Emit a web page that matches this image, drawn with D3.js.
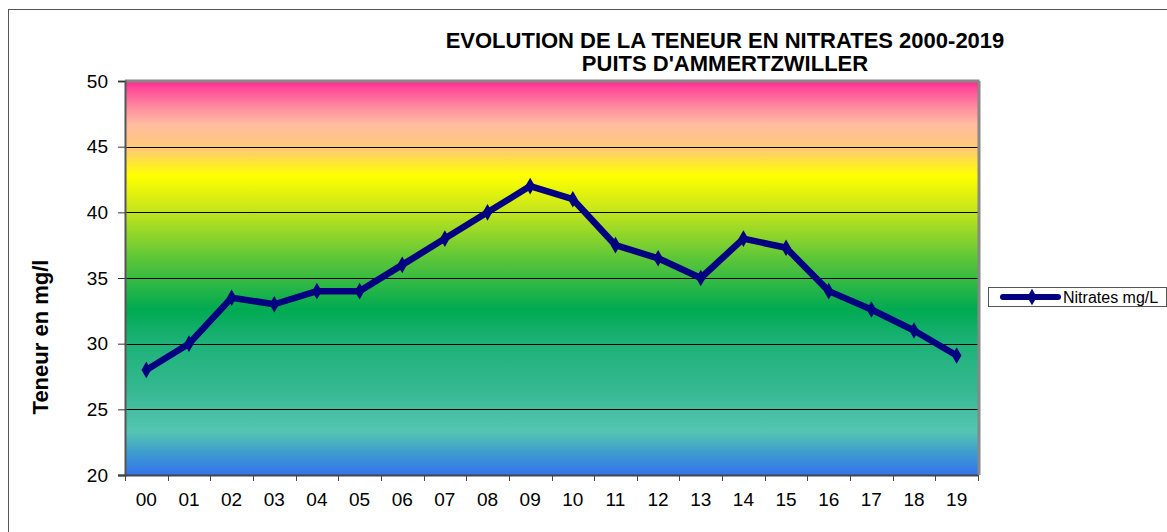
<!DOCTYPE html>
<html>
<head>
<meta charset="utf-8">
<script src="https://cdn.jsdelivr.net/npm/d3@7"></script>
<style>
  html, body { margin: 0; padding: 0; background: #fff; }
  svg { display: block; font-family: Arial, "Liberation Sans", sans-serif; }
</style>
</head>
<body>
<svg id="chart" width="1167" height="532"></svg>
<script>
const years = ['00','01','02','03','04','05','06','07','08','09','10','11','12','13','14','15','16','17','18','19'];
const nitrates = [28, 30, 33.5, 33, 34, 34, 36, 38, 40, 42, 41, 37.5, 36.5, 35, 38, 37.3, 34, 32.6, 31, 29.1];
const yTicks = [20, 25, 30, 35, 40, 45, 50];
const titleLines = ['EVOLUTION DE LA TENEUR EN NITRATES 2000-2019', "PUITS D'AMMERTZWILLER"];
const seriesName = 'Nitrates mg/L';

const svg = d3.select('#chart');
const plot = { left: 125, top: 81, right: 978, bottom: 475 };

// outer chart frame
svg.append('rect')
  .attr('x', 8.5).attr('y', 9.5)
  .attr('width', 1200).attr('height', 600)
  .attr('fill', 'none').attr('stroke', '#555').attr('stroke-width', 1);

const x = d3.scaleBand().domain(years).range([plot.left, plot.right]);
const y = d3.scaleLinear().domain([20, 50]).range([plot.bottom, plot.top]);

// background gradient of the plot area
const grad = svg.append('defs').append('linearGradient')
  .attr('id', 'bg').attr('x1', 0).attr('y1', 0).attr('x2', 0).attr('y2', 1);
[
  [0, '#ff2a94'], [0.03, '#ff5a98'], [0.07, '#ff90a0'], [0.11, '#ffbca0'],
  [0.17, '#ffc878'], [0.24, '#ffff00'], [0.33, '#c4e51c'], [0.45, '#5cc638'],
  [0.58, '#00aa52'], [0.67, '#1fb27a'], [0.78, '#34b890'], [0.89, '#55c5b2'],
  [0.94, '#3f9fcc'], [1, '#3373ee']
].forEach(([o, c]) => grad.append('stop').attr('offset', o).attr('stop-color', c));

svg.append('rect')
  .attr('x', plot.left).attr('y', plot.top)
  .attr('width', plot.right - plot.left).attr('height', plot.bottom - plot.top)
  .attr('fill', 'url(#bg)');

// grid lines
svg.append('g')
  .selectAll('line')
  .data(yTicks.filter(t => t > 20 && t < 50))
  .join('line')
  .attr('x1', plot.left).attr('x2', plot.right)
  .attr('y1', d => Math.round(y(d)) + 0.5).attr('y2', d => Math.round(y(d)) + 0.5)
  .attr('stroke', '#000').attr('stroke-width', 1);

// plot frame: gray top/right, dark left/bottom
svg.append('line').attr('x1', plot.left).attr('x2', plot.right + 1.5)
  .attr('y1', plot.top).attr('y2', plot.top).attr('stroke', '#888').attr('stroke-width', 3);
svg.append('line').attr('x1', plot.right + 1).attr('x2', plot.right + 1)
  .attr('y1', plot.top).attr('y2', plot.bottom).attr('stroke', '#888').attr('stroke-width', 3);

// y axis
const yAxis = svg.append('g')
  .attr('transform', `translate(${plot.left},0)`)
  .call(d3.axisLeft(y).tickValues(yTicks).tickSize(7).tickPadding(10));
yAxis.select('.domain').attr('stroke', '#555').attr('stroke-width', 2);
yAxis.selectAll('.tick line').attr('stroke', '#333');
yAxis.selectAll('text').attr('font-size', 19).attr('fill', '#000')
  .attr('font-family', 'Arial, "Liberation Sans", sans-serif');

// x axis: ticks at category boundaries, labels at centres
const xAxis = svg.append('g').attr('transform', `translate(0,${plot.bottom})`);
xAxis.append('line').attr('x1', plot.left - 7).attr('x2', plot.right)
  .attr('y1', 0.5).attr('y2', 0.5).attr('stroke', '#444').attr('stroke-width', 2);
xAxis.selectAll('.tk')
  .data(years.concat(['end']))
  .join('line')
  .attr('x1', (d, i) => Math.round(plot.left + i * x.step()) + 0.5)
  .attr('x2', (d, i) => Math.round(plot.left + i * x.step()) + 0.5)
  .attr('y1', 0).attr('y2', 6).attr('stroke', '#444');
xAxis.selectAll('text')
  .data(years)
  .join('text')
  .attr('x', d => x(d) + x.bandwidth() / 2)
  .attr('y', 31)
  .attr('text-anchor', 'middle')
  .attr('font-size', 19)
  .text(d => d);

// series line
const pts = years.map((d, i) => [x(d) + x.bandwidth() / 2, y(nitrates[i])]);
svg.append('path')
  .attr('d', d3.line()(pts))
  .attr('fill', 'none').attr('stroke', '#000080')
  .attr('stroke-width', 6.5).attr('stroke-linejoin', 'round');

const diamond = d3.symbol().type(d3.symbolDiamond).size(80);
svg.append('g').selectAll('path')
  .data(pts)
  .join('path')
  .attr('transform', d => `translate(${d[0]},${d[1]})`)
  .attr('d', diamond)
  .attr('fill', '#000080');

// titles
svg.append('g').selectAll('text')
  .data(titleLines)
  .join('text')
  .attr('x', 725).attr('y', (d, i) => 48 + i * 23)
  .attr('text-anchor', 'middle')
  .attr('font-size', 22).attr('font-weight', 'bold')
  .text(d => d);

svg.append('text')
  .attr('transform', 'translate(48,337) rotate(-90)')
  .attr('text-anchor', 'middle')
  .attr('font-size', 22).attr('font-weight', 'bold')
  .text('Teneur en mg/l');

// legend
const lg = svg.append('g').attr('transform', 'translate(988,287)');
lg.append('rect').attr('x', 0.5).attr('y', 0.5).attr('width', 178).attr('height', 19)
  .attr('fill', '#fff').attr('stroke', '#555');
lg.append('line').attr('x1', 15).attr('x2', 70).attr('y1', 10).attr('y2', 10)
  .attr('stroke', '#000080').attr('stroke-width', 6).attr('stroke-linecap', 'round');
lg.append('path').attr('transform', 'translate(44,10)').attr('d', diamond).attr('fill', '#000080');
lg.append('text').attr('x', 75).attr('y', 16).attr('font-size', 16).text(seriesName);
</script>
</body>
</html>
